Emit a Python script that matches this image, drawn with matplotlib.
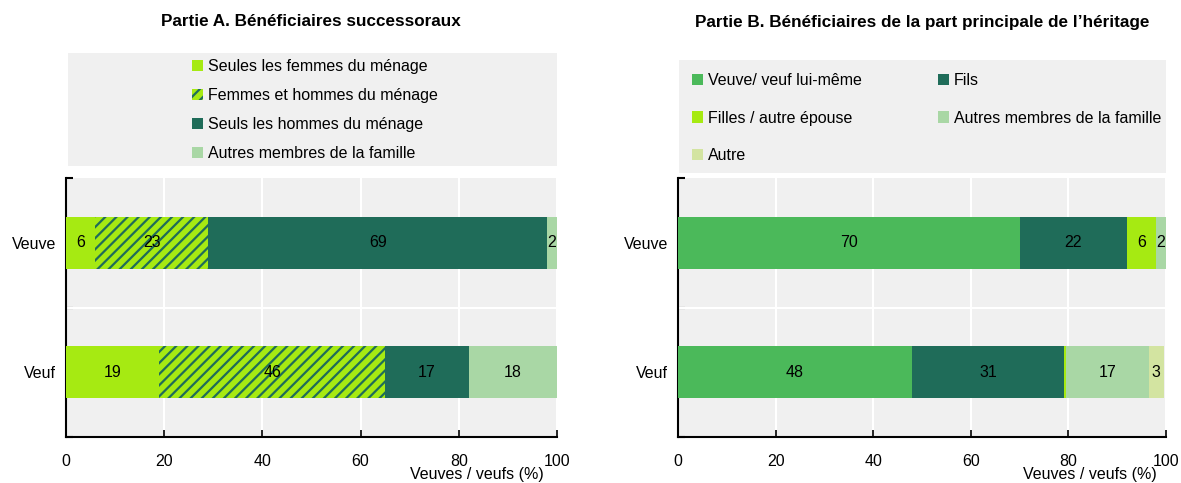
import matplotlib
matplotlib.use("Agg")
import matplotlib.pyplot as plt
from matplotlib.patches import Patch, Rectangle
import numpy as np

plt.rcParams['font.family'] = ['Liberation Sans', 'DejaVu Sans']
plt.rcParams['hatch.linewidth'] = 1.6

# ---- data ----
categories = ["Veuf", "Veuve"]

# Partie A
a_labels = ["Seules les femmes du ménage", "Femmes et hommes du ménage",
            "Seuls les hommes du ménage", "Autres membres de la famille"]
a_femmes = [19, 6]
a_mixte = [46, 23]
a_hommes = [17, 69]
a_autres = [18, 2]

# Partie B
b_labels = ["Veuve/ veuf lui-même", "Fils", "Filles / autre épouse",
            "Autres membres de la famille", "Autre"]
b_lui = [48, 70]
b_fils = [31, 22]
b_filles = [0.5, 6]
b_autres_fam = [17, 2]
b_autre = [3, 0]

x_ticks = [0, 20, 40, 60, 80, 100]

# ---- style ----
LIME = "#a6ea12"
DARK = "#1f6c59"
LIGHT = "#a9d7a5"
MID = "#4bb95a"
PALE = "#d3e4a1"
BG = "#f0f0f0"
FS = 11.5

fig = plt.figure(figsize=(11.81, 4.83), dpi=100)
W, H = 1181, 483


def px_axes(l, t, r, b):
    return [l / W, (H - b) / H, (r - l) / W, (b - t) / H]


axA = fig.add_axes(px_axes(66, 178, 557, 437))
axB = fig.add_axes(px_axes(678, 178, 1166, 437))

# legend backgrounds
for (l, t, r, b) in [(68, 53, 557, 166), (679, 60, 1166, 173)]:
    fig.patches.append(Rectangle((l / W, (H - b) / H), (r - l) / W, (b - t) / H,
                                 transform=fig.transFigure, facecolor=BG,
                                 edgecolor="none", zorder=0))

y = np.arange(len(categories))
bh = 0.4


def stack(ax, series, colors, hatches=None):
    left = np.zeros(len(categories))
    for i, (vals, col) in enumerate(zip(series, colors)):
        vals = np.array(vals, dtype=float)
        if hatches and hatches[i]:
            bars = ax.barh(y, vals, left=left, height=bh, color=LIME,
                           edgecolor=col, hatch=hatches[i], linewidth=0, zorder=3)
        else:
            bars = ax.barh(y, vals, left=left, height=bh, color=col,
                           linewidth=0, zorder=3)
        labels = [("%g" % v) if (v >= 1) else "" for v in vals]
        ax.bar_label(bars, labels=labels, label_type="center", fontsize=FS,
                     color="black", zorder=5)
        left += vals


stack(axA, [a_femmes, a_mixte, a_hommes, a_autres],
      [LIME, DARK, DARK, LIGHT], hatches=[None, "///", None, None])
stack(axB, [b_lui, b_fils, b_filles, b_autres_fam, b_autre],
      [MID, DARK, LIME, LIGHT, PALE])

for ax, xl in [(axA, 0.972), (axB, 0.982)]:
    ax.set_facecolor(BG)
    ax.set_xlim(0, 100)
    ax.set_ylim(-0.5, 1.5)
    ax.set_xticks(x_ticks)
    ax.set_yticks(y)
    ax.set_yticklabels(categories, fontsize=FS)
    ax.set_yticks([-0.5, 0.5, 1.5], minor=True)
    ax.tick_params(axis="y", which="major", length=0, pad=7)
    ax.tick_params(axis="y", which="minor", direction="in", length=5, width=1.5)
    ax.tick_params(axis="x", direction="in", length=5, width=1.2, pad=12,
                   labelsize=FS)
    for s in ["top", "right"]:
        ax.spines[s].set_visible(False)
    for s in ["left", "bottom"]:
        ax.spines[s].set_linewidth(1.5)
        ax.spines[s].set_color("black")
    ax.grid(axis="x", color="white", linewidth=1.5, zorder=1)
    ax.axhline(0.5, color="white", linewidth=1.5, zorder=1)
    ax.set_axisbelow(True)
    ax.text(xl, -0.143, "Veuves / veufs (%)", transform=ax.transAxes,
            ha="right", va="center", fontsize=FS)

# titles
fig.text(311 / W, (H - 22) / H, "Partie A. Bénéficiaires successoraux",
         ha="center", va="center", fontsize=12.3, fontweight="bold")
fig.text(922 / W, (H - 22) / H, "Partie B. Bénéficiaires de la part principale de l’héritage",
         ha="center", va="center", fontsize=12.3, fontweight="bold")

# legends
hA = [Patch(facecolor=LIME, edgecolor="none"),
      Patch(facecolor=LIME, edgecolor=DARK, hatch="///", linewidth=0),
      Patch(facecolor=DARK, edgecolor="none"),
      Patch(facecolor=LIGHT, edgecolor="none")]
legA = fig.legend(hA, a_labels, loc="upper left",
                  bbox_to_anchor=(192 / W, (H - 59) / H), frameon=False,
                  fontsize=FS, handlelength=0.7, handleheight=0.7,
                  handletextpad=0.3, labelspacing=0.87, borderpad=0,
                  borderaxespad=0)

cB = [MID, DARK, LIME, LIGHT, PALE]
order = [0, 2, 4, 1, 3]
hB = [Patch(facecolor=cB[i], edgecolor="none") for i in order]
legB = fig.legend(hB, [b_labels[i] for i in order], loc="upper left", ncol=2,
                  bbox_to_anchor=(692 / W, (H - 73) / H), frameon=False,
                  fontsize=FS, handlelength=0.7, handleheight=0.7,
                  handletextpad=0.3, labelspacing=1.41, columnspacing=4.75,
                  borderpad=0, borderaxespad=0)

fig.savefig("out.png", dpi=100)
